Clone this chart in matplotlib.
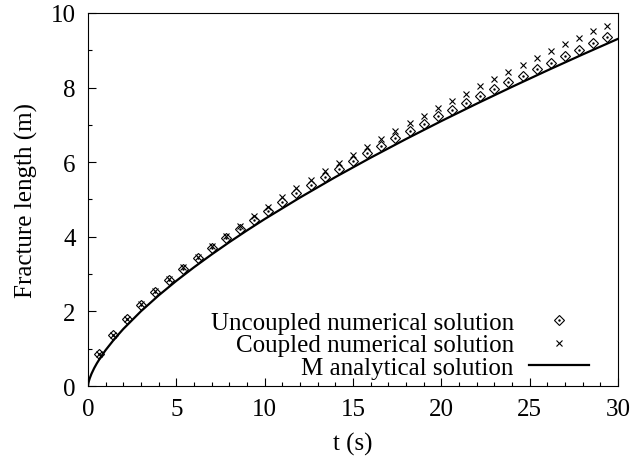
import numpy as np
import matplotlib
matplotlib.use('Agg')
import matplotlib.pyplot as plt
from matplotlib.ticker import MultipleLocator

plt.rcParams['font.family'] = ['Liberation Serif', 'DejaVu Serif']
plt.rcParams['mathtext.fontset'] = 'stix'

# numerical results (time in s, fracture length in m)
t_num = [0.6, 1.4, 2.2, 3.0, 3.8, 4.6, 5.4, 6.2, 7.0, 7.8, 8.6, 9.4, 10.2,
         11.0, 11.8, 12.6, 13.4, 14.2, 15.0, 15.8, 16.6, 17.4, 18.2, 19.0,
         19.8, 20.6, 21.4, 22.2, 23.0, 23.8, 24.6, 25.4, 26.2, 27.0, 27.8,
         28.6, 29.4]
L_uncoupled = [0.85, 1.38, 1.80, 2.18, 2.52, 2.84, 3.14, 3.42, 3.70, 3.96,
               4.22, 4.46, 4.70, 4.94, 5.17, 5.39, 5.61, 5.82, 6.03, 6.24,
               6.44, 6.64, 6.84, 7.03, 7.23, 7.41, 7.60, 7.78, 7.97, 8.15,
               8.32, 8.50, 8.67, 8.85, 9.02, 9.19, 9.35]
L_coupled = [0.85, 1.38, 1.80, 2.19, 2.54, 2.87, 3.18, 3.47, 3.76, 4.03,
             4.30, 4.56, 4.81, 5.06, 5.30, 5.53, 5.76, 5.98, 6.20, 6.41,
             6.62, 6.83, 7.04, 7.24, 7.45, 7.64, 7.84, 8.03, 8.23, 8.42,
             8.60, 8.79, 8.97, 9.16, 9.34, 9.52, 9.66]

# M-vertex analytical solution
t_ana = [0, 0.02, 0.05, 0.1, 0.2, 0.35, 0.5, 0.75, 1, 1.5, 2, 3, 4, 5, 6, 7,
         8, 9, 10, 12, 14, 16, 18, 20, 22, 24, 26, 28, 30]
L_ana = [0, 0.071, 0.131, 0.208, 0.330, 0.479, 0.607, 0.796, 0.964, 1.263,
         1.530, 2.005, 2.429, 2.819, 3.183, 3.527, 3.856, 4.171, 4.475,
         5.052, 5.600, 6.121, 6.621, 7.103, 7.568, 8.020, 8.460, 8.889, 9.307]

FS = 18

fig = plt.figure(figsize=(6.35, 4.6), dpi=100)
ax = fig.add_axes([88 / 635, 1 - 387 / 460, 530 / 635, 373 / 460])

h_d, = ax.plot(t_num, L_uncoupled, ls='none', marker='D', ms=5.5, mfc='none',
               mec='black', mew=0.8)
h_dot, = ax.plot(t_num, L_uncoupled, ls='none', marker='.', ms=1.5,
                 color='black')
h_x, = ax.plot(t_num, L_coupled, ls='none', marker='x', ms=5, color='black',
               mew=0.8)
h_l, = ax.plot(t_ana, L_ana, color='black', lw=1.6)

ax.set_xlim(0, 30)
ax.set_ylim(0, 10)
ax.xaxis.set_major_locator(MultipleLocator(5))
ax.xaxis.set_minor_locator(MultipleLocator(1))
ax.yaxis.set_major_locator(MultipleLocator(2))
ax.yaxis.set_minor_locator(MultipleLocator(1))
ax.tick_params(which='both', direction='in', top=False, right=False,
               labelsize=FS, width=0.8)
ax.tick_params(which='major', length=6, pad=9)
ax.tick_params(which='minor', length=3)
for s in ax.spines.values():
    s.set_linewidth(0.8)

ax.set_xlabel('t (s)', fontsize=FS, labelpad=8)
ax.set_ylabel('Fracture length (m)', fontsize=FS, labelpad=9)

leg = ax.legend([(h_d, h_dot), h_x, h_l],
                ['Uncoupled numerical solution', 'Coupled numerical solution',
                 'M analytical solution'],
                loc='lower right', bbox_to_anchor=(0.945, 0.019),
                markerfirst=False, frameon=False, fontsize=FS,
                handlelength=2.4, handletextpad=0.6, labelspacing=0.0,
                borderpad=0, borderaxespad=0)

plt.savefig('out.png', dpi=100)
plt.close()
